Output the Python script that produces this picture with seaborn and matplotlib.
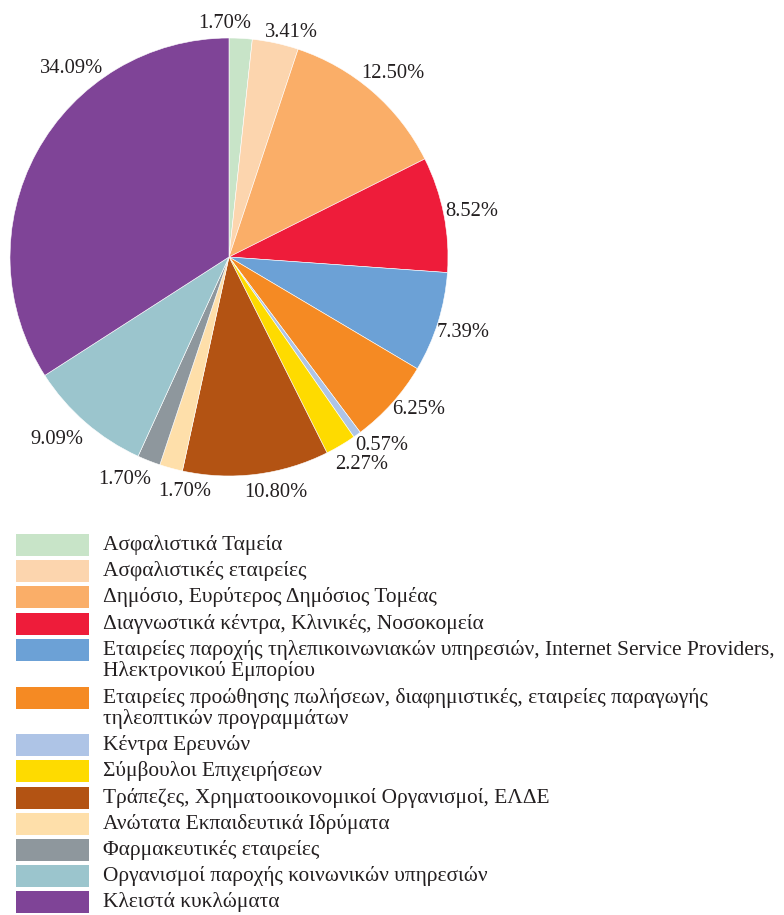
import matplotlib
matplotlib.use("Agg")
import matplotlib.pyplot as plt
import seaborn as sns
import numpy as np
from matplotlib.patches import Rectangle

# Sectors (legend order = clockwise order starting at 12 o'clock)
categories = [
    "Ασφαλιστικά Ταμεία",
    "Ασφαλιστικές εταιρείες",
    "Δημόσιο, Ευρύτερος Δημόσιος Τομέας",
    "Διαγνωστικά κέντρα, Κλινικές, Νοσοκομεία",
    "Εταιρείες παροχής τηλεπικοινωνιακών υπηρεσιών, Internet Service Providers,\nΗλεκτρονικού Εμπορίου",
    "Εταιρείες προώθησης πωλήσεων, διαφημιστικές, εταιρείες παραγωγής\nτηλεοπτικών προγραμμάτων",
    "Κέντρα Ερευνών",
    "Σύμβουλοι Επιχειρήσεων",
    "Τράπεζες, Χρηματοοικονομικοί Οργανισμοί, ΕΛΔΕ",
    "Ανώτατα Εκπαιδευτικά Ιδρύματα",
    "Φαρμακευτικές εταιρείες",
    "Οργανισμοί παροχής κοινωνικών υπηρεσιών",
    "Κλειστά κυκλώματα",
]
shares = [1.70, 3.41, 12.50, 8.52, 7.39, 6.25, 0.57, 2.27, 10.80, 1.70, 1.70, 9.09, 34.09]
pct_labels = [f"{v:.2f}%" for v in shares]

colors = [
    "#c8e4c8", "#fcd5ae", "#faae68", "#ee1c3a", "#6ca1d6", "#f58a23", "#aec4e6",
    "#fedb00", "#b35313", "#fedfaa", "#8e979d", "#9bc5cd", "#7f4497",
]

# Per-label placement: radial distance (in pie radii) and clockwise angular nudge (deg)
label_dist = [1.08, 1.076, 1.13, 1.13, 1.12, 1.105, 1.10, 1.115, 1.085, 1.08, 1.11, 1.14, 1.13]
label_shift = [-4.0, 3.2, 0.5, 0.0, 0.0, -3.6, -3.6, -2.3, -4.2, -4.6, 3.9, 2.8, 22.0]

sns.set_theme(style="white")
plt.rcParams["font.family"] = ["Liberation Serif", "DejaVu Serif"]
text_color = "#231f20"
fs_pie = 14.8
fs_leg = 15.4

W, H = 784, 915
fig = plt.figure(figsize=(W / 100, H / 100), dpi=100)
fig.patch.set_facecolor("white")

palette = sns.color_palette(colors)

# Pie
cx, cy, R = 229, 257, 219
ax = fig.add_axes([(cx - R) / W, 1 - (cy + R) / H, 2 * R / W, 2 * R / H])
wedges, _ = ax.pie(
    shares, colors=palette, startangle=90, counterclock=False, radius=1,
    wedgeprops=dict(edgecolor="white", linewidth=0.4),
)
ax.set_xlim(-1, 1)
ax.set_ylim(-1, 1)
ax.set_aspect("equal")
ax.axis("off")

for w, lab, r, d in zip(wedges, pct_labels, label_dist, label_shift):
    mid = np.deg2rad((w.theta1 + w.theta2) / 2 - d)
    ax.text(r * np.cos(mid), r * np.sin(mid), lab, ha="center", va="center_baseline",
            fontsize=fs_pie, color=text_color, clip_on=False)

# Legend drawn in pixel coordinates
lg = fig.add_axes([0, 0, 1, 1])
lg.set_xlim(0, W)
lg.set_ylim(H, 0)
lg.axis("off")
lg.patch.set_alpha(0)

top = 534.0
row_step, line_step = 26.2, 21.5
for cat, col in zip(categories, palette):
    lg.add_patch(Rectangle((16, top), 73, 22, facecolor=col, edgecolor="none"))
    lines = cat.split("\n")
    for i, line in enumerate(lines):
        lg.text(103, top + 16 + i * line_step, line, ha="left", va="baseline",
                fontsize=fs_leg, color=text_color)
    top += row_step + (len(lines) - 1) * line_step

fig.savefig("out.png", dpi=100, facecolor="white")
